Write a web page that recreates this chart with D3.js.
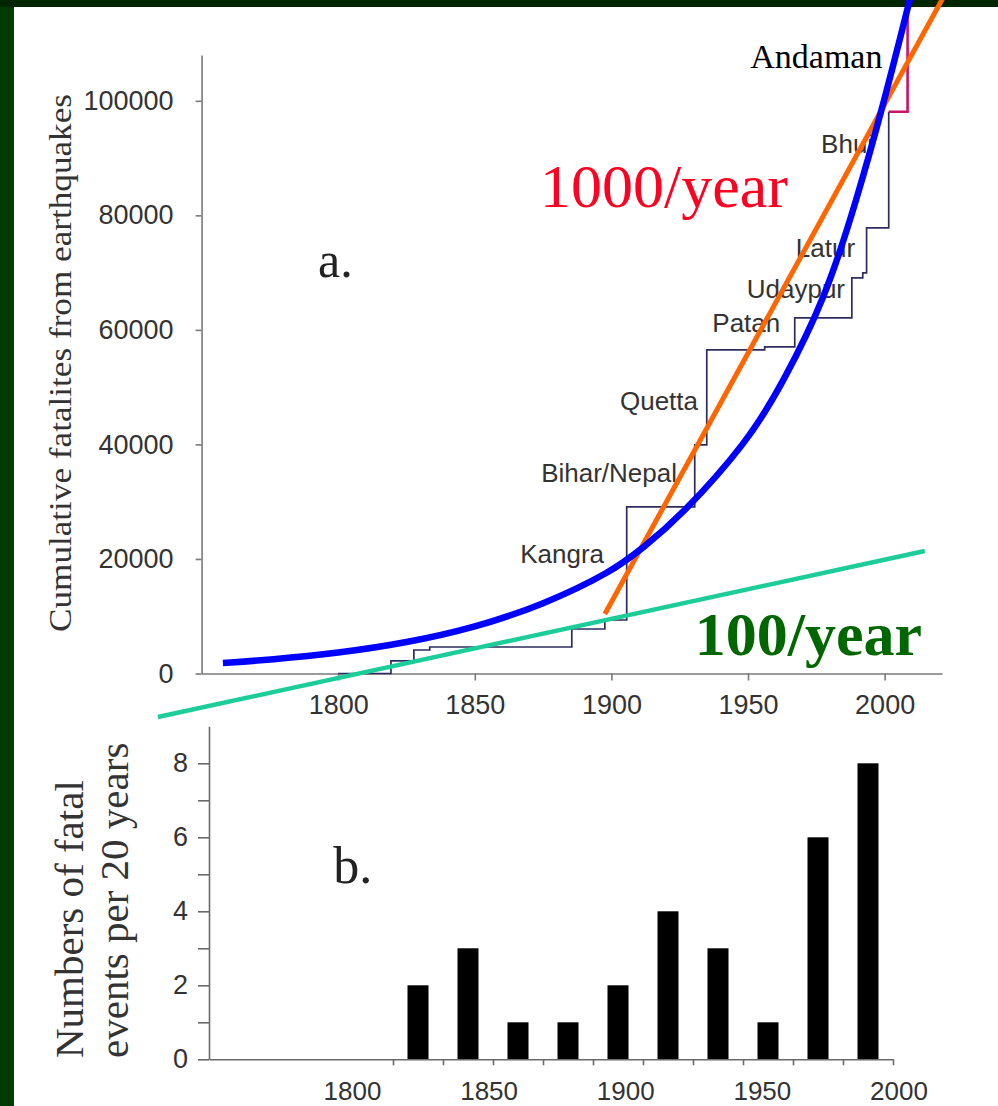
<!DOCTYPE html>
<html>
<head>
<meta charset="utf-8">
<script src="https://cdn.jsdelivr.net/npm/d3@7"></script>
<style>
  body { margin: 0; background: #fff; }
  svg { display: block; }
  .tick text { font-family: "Liberation Sans", Arial, sans-serif; fill: #333; }
</style>
</head>
<body>
<svg width="998" height="1106"></svg>
<script>
// ---- data ----
// cumulative fatalities, step after each event
const stepYears  = [1800, 1819.3, 1827.7, 1833.5, 1885.5, 1897.6, 1905.6, 1930.5, 1934.9, 1956.1, 1967.1, 1988.0, 1992.0, 1993.4, 2001.5];
const stepTotals = [0, 2200, 4100, 4630, 7770, 9340, 29080, 39910, 56500, 57030, 62100, 69080, 69960, 77820, 98080];
// Andaman step (drawn in magenta, runs off the top)
const andamanYears  = [2001.5, 2008.4, 2008.4];
const andamanTotals = [98080, 98080, 126000];
// blue trend curve
const trendYears  = [1757.8, 1775, 1800, 1825, 1850, 1875, 1900, 1911.5, 1925, 1950, 1962.7, 1978.1, 1989.8, 2000.0, 2009.2, 2012.0];
const trendTotals = [1830, 2400, 3550, 5350, 8000, 12000, 17700, 21920, 27300, 40500, 50740, 65240, 82710, 100170, 117640, 123000];
// straight rate lines
const rate1000Years  = [1897.6, 2023.0];
const rate1000Totals = [10390, 119400];
const rate100Years   = [1734.0, 2014.7];
const rate100Totals  = [-7600, 21400];
// events per 20 years
const binStarts = [1800, 1820, 1840, 1860, 1880, 1900, 1920, 1940, 1960, 1980];
const binCounts = [2, 3, 1, 1, 2, 4, 3, 1, 6, 8];
// ticks
const topYTicks = [0, 20000, 40000, 60000, 80000, 100000];
const yearTicks = [1800, 1850, 1900, 1950, 2000];
const binEdgeTicks = [1800, 1820, 1840, 1860, 1880, 1900, 1920, 1940, 1960, 1980, 2000];
const countTicks = [0, 1, 2, 3, 4, 5, 6, 7, 8];
// event labels
const quakeNames  = ["Kangra", "Bihar/Nepal", "Quetta", "Patan", "Udaypur", "Latur", "Bhuj"];
const quakeLabelYears  = [1897.3, 1924.0, 1931.7, 1961.8, 1985.5, 1989.2, 1995.8];
const quakeLabelTotals = [19300, 33450, 46030, 59560, 65590, 72750, 90920];

const sans = '"Liberation Sans", Arial, sans-serif';
const serif = '"Liberation Serif", "Times New Roman", serif';

const svg = d3.select("svg");

// dark green frame
svg.append("rect").attr("width", 998).attr("height", 1106).attr("fill", "#003a00");
svg.append("rect").attr("width", 998).attr("height", 7).attr("fill", "#002600");
svg.append("rect").attr("x", 14).attr("y", 7).attr("width", 984).attr("height", 1099).attr("fill", "#fff");

// ---- panel a ----
const x = d3.scaleLinear().domain([1750, 2021]).range([201.6, 942]);
const y = d3.scaleLinear().domain([0, 108000]).range([673.5, 55]);

const gA = svg.append("g");

const yAxis = gA.append("g")
  .attr("transform", "translate(201.6,0)")
  .call(d3.axisLeft(y).tickValues(topYTicks).tickSize(6).tickPadding(22).tickSizeOuter(0).tickFormat(d3.format("d")));
const xAxis = gA.append("g")
  .attr("transform", "translate(0,673.5)")
  .call(d3.axisBottom(x).tickValues(yearTicks).tickSize(7).tickPadding(14).tickSizeOuter(0).tickFormat(d3.format("d")));
[yAxis, xAxis].forEach(a => {
  a.selectAll("path, line").attr("stroke", "#7a7a7a").attr("stroke-width", 1.6);
  a.selectAll("text").style("font-size", "27px");
});

gA.append("text")
  .attr("transform", "translate(71,363) rotate(-90)")
  .attr("text-anchor", "middle")
  .attr("textLength", 538).attr("lengthAdjust", "spacingAndGlyphs")
  .style("font-family", serif).style("font-size", "31px").attr("fill", "#333")
  .text("Cumulative fatalites from earthquakes");

gA.append("text")
  .attr("x", x(1792.6)).attr("y", y(69260))
  .style("font-family", serif).style("font-size", "50px").attr("fill", "#222")
  .text("a.");

// event names sit under the lines
gA.selectAll("text.quake")
  .data(quakeNames)
  .join("text")
  .attr("class", "quake")
  .attr("x", (d, i) => x(quakeLabelYears[i]))
  .attr("y", (d, i) => y(quakeLabelTotals[i]))
  .attr("text-anchor", "end")
  .style("font-family", sans).style("font-size", "26px").attr("fill", "#333")
  .text(d => d);

const line = d3.line().x(d => x(d[0])).y(d => y(d[1]));

gA.append("path")
  .datum(stepYears.map((yr, i) => [yr, stepTotals[i]]))
  .attr("d", line.curve(d3.curveStepAfter))
  .attr("fill", "none").attr("stroke", "#2e2c5e").attr("stroke-width", 1.7);

gA.append("path")
  .datum(andamanYears.map((yr, i) => [yr, andamanTotals[i]]))
  .attr("d", line.curve(d3.curveLinear))
  .attr("fill", "none").attr("stroke", "#cc1166").attr("stroke-width", 2.6);

gA.append("path")
  .datum(rate100Years.map((yr, i) => [yr, rate100Totals[i]]))
  .attr("d", line.curve(d3.curveLinear))
  .attr("fill", "none").attr("stroke", "#1ccc99").attr("stroke-width", 4.5);

gA.append("path")
  .datum(rate1000Years.map((yr, i) => [yr, rate1000Totals[i]]))
  .attr("d", line.curve(d3.curveLinear))
  .attr("fill", "none").attr("stroke", "#ff6600").attr("stroke-width", 5);

gA.append("path")
  .datum(trendYears.map((yr, i) => [yr, trendTotals[i]]))
  .attr("d", line.curve(d3.curveBasis))
  .attr("fill", "none").attr("stroke", "#0000ff").attr("stroke-width", 6.5);

gA.append("text")
  .attr("x", x(1999.2)).attr("y", y(105680))
  .attr("text-anchor", "end")
  .style("font-family", serif).style("font-size", "34px").attr("fill", "#000")
  .text("Andaman");

gA.append("text")
  .attr("x", x(1964.6)).attr("y", y(81480))
  .attr("text-anchor", "end")
  .style("font-family", serif).style("font-size", "62px").attr("fill", "#ff0022")
  .text("1000/year");

gA.append("text")
  .attr("x", x(2013.7)).attr("y", y(3230))
  .attr("text-anchor", "end")
  .style("font-family", serif).style("font-size", "62px").style("font-weight", "bold").attr("fill", "#006600")
  .text("100/year");

// ---- panel b ----
const yb = d3.scaleLinear().domain([0, 9]).range([1059.3, 726.3]);
const xEdge = d3.scaleLinear().domain([1726.4, 2000]).range([209, 893]);
const xBin = d3.scaleBand().domain(binStarts).range([xEdge(1800), xEdge(2000)]).paddingInner(0.58).paddingOuter(0.29);
const xLabel = d3.scaleLinear().domain([1800, 2000]).range([352, 898.5]);

const gB = svg.append("g");

gB.selectAll("rect.bar")
  .data(binCounts)
  .join("rect")
  .attr("class", "bar")
  .attr("x", (d, i) => xBin(binStarts[i]))
  .attr("width", xBin.bandwidth())
  .attr("y", d => yb(d))
  .attr("height", d => yb(0) - yb(d))
  .attr("fill", "#000");

const ybAxis = gB.append("g")
  .attr("transform", "translate(209,0)")
  .call(d3.axisLeft(yb).tickValues(countTicks).tickSize(11).tickPadding(10).tickSizeOuter(0)
    .tickFormat(d => d % 2 ? "" : d));
const xbAxis = gB.append("g")
  .attr("transform", "translate(0,1059.3)")
  .call(d3.axisBottom(xEdge).tickValues(binEdgeTicks).tickSize(6).tickSizeOuter(0).tickFormat(""));
const xbLabels = gB.append("g")
  .attr("transform", "translate(0,1059.3)")
  .call(d3.axisBottom(xLabel).tickValues(yearTicks).tickSize(0).tickPadding(22).tickFormat(d3.format("d")));
xbLabels.select(".domain").remove();
[ybAxis, xbAxis].forEach(a => a.selectAll("path, line").attr("stroke", "#6a6a6a").attr("stroke-width", 1.6));
ybAxis.selectAll("text").style("font-size", "27px");
xbLabels.selectAll("text").style("font-size", "26px");

const yLabelB = gB.append("text")
  .attr("transform", "translate(0,1058) rotate(-90)")
  .style("font-family", serif).style("font-size", "41px").attr("fill", "#333");
yLabelB.append("tspan").attr("x", 0).attr("y", 83).text("Numbers of fatal");
yLabelB.append("tspan").attr("x", 0).attr("y", 128).text("events per 20 years");

gB.append("text")
  .attr("x", xLabel(1793.1)).attr("y", yb(4.76))
  .style("font-family", serif).style("font-size", "52px").attr("fill", "#222")
  .text("b.");
</script>
</body>
</html>
